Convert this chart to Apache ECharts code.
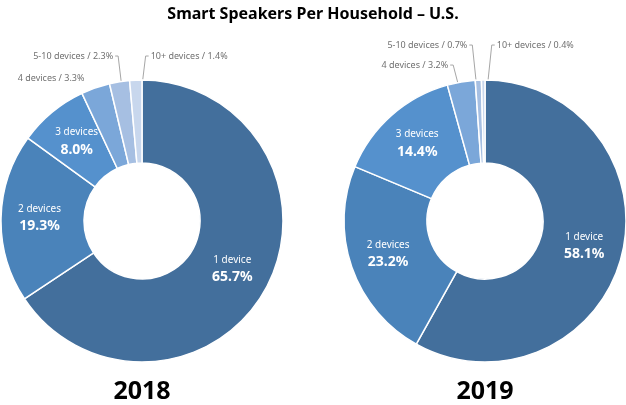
<!DOCTYPE html>
<html><head><meta charset="utf-8">
<script src="https://cdn.jsdelivr.net/npm/echarts@6/dist/echarts.min.js"></script>
<style>html,body{margin:0;padding:0;background:#fff}#c{width:626px;height:405px}</style>
</head><body><div id="c"></div>
<script>
const chartTitle = 'Smart Speakers Per Household – U.S.';
const categories = ['1 device', '2 devices', '3 devices', '4 devices', '5-10 devices', '10+ devices'];
const values2018 = [65.7, 19.3, 8.0, 3.3, 2.3, 1.4];
const values2019 = [58.1, 23.2, 14.4, 3.2, 0.7, 0.4];
const years = ['2018', '2019'];

const colors = ['#436F9C', '#4A83BA', '#5591CD', '#7BA7D9', '#A6BFE2', '#C8D7ED'];
const FONT = '"Noto Sans", "Open Sans", sans-serif';
const CY = 221, R0 = 58, R1 = 141;
const CX = [142, 485];
// outer label placement (label height above centre in outer radii, leader-line shift)
const outerPlace = [
  {3: {ky: 1.014, edge: -11}, 4: {ky: 1.17, dx: -8}, 5: {ky: 1.17, dx: 8}},
  {3: {ky: 1.106, dx: -15}, 4: {ky: 1.248, dx: -8}, 5: {ky: 1.248, dx: 8}}
];

function makeLayout(si, values) {
  const total = values.reduce((a, b) => a + b, 0);
  return function (p) {
    const i = p.dataIndex;
    const cfg = outerPlace[si][i];
    if (!cfg) return;
    let cum = 0;
    for (let k = 0; k < i; k++) cum += values[k];
    const th = (cum + values[i] / 2) / total * 2 * Math.PI;
    const s = Math.sin(th), c = Math.cos(th);
    const ly = CY - cfg.ky * R1;
    if (cfg.dx === undefined) {
      const ox = CX[si] + R1 * s;
      return {x: ox + cfg.edge, y: ly, align: 'right', verticalAlign: 'middle'};
    }
    const rm = (R0 + R1) / 2;
    const ax = CX[si] + rm * s, ay = CY - rm * c;
    const tx = ax + cfg.dx;
    const dir = cfg.dx < 0 ? -1 : 1;
    return {
      x: tx + dir * 5, y: ly,
      align: dir < 0 ? 'right' : 'left', verticalAlign: 'middle',
      labelLinePoints: [[ax, ay], [tx, ly], [tx + dir * 3, ly]]
    };
  };
}

function buildData(values, si) {
  return categories.map((name, i) => {
    const inside = i < 3;
    const item = {name: name, value: values[i], itemStyle: {color: colors[i]}};
    if (inside) {
      item.label = {
        show: true, position: 'inside',
        formatter: (p) => '{n|' + p.name + '}\n{p|' + p.value.toFixed(1) + '%}',
        rich: {
          n: {fontSize: 10, color: '#fff', fontFamily: FONT, lineHeight: 15},
          p: {fontSize: 14, fontWeight: 'bold', color: '#fff', fontFamily: FONT, lineHeight: 19}
        }
      };
      item.labelLine = {show: false};
    } else {
      const noLine = outerPlace[si][i] && outerPlace[si][i].dx === undefined;
      item.label = {
        show: true, position: 'outside',
        formatter: (p) => p.name + ' / ' + p.value.toFixed(1) + '%',
        fontSize: 9, color: '#707070', fontFamily: FONT
      };
      item.labelLine = {show: !noLine, lineStyle: {color: '#a6a6a6', width: 1}};
    }
    return item;
  });
}

const chart = echarts.init(document.getElementById('c'), null, {renderer: 'canvas'});
const allValues = [values2018, values2019];
chart.setOption({
  animation: false,
  backgroundColor: '#fff',
  title: {
    text: chartTitle, left: 'center', top: 1,
    textStyle: {fontSize: 16, fontWeight: 'bold', color: '#000', fontFamily: FONT}
  },
  graphic: years.map((y, si) => ({
    type: 'text', x: CX[si], y: 392,
    style: {text: y, align: 'center', verticalAlign: 'middle', font: 'bold 25px ' + FONT, fill: '#000'}
  })),
  series: allValues.map((vals, si) => ({
    type: 'pie',
    center: [CX[si], CY],
    radius: [R0, R1],
    startAngle: 90,
    clockwise: true,
    avoidLabelOverlap: false,
    silent: true,
    itemStyle: {borderColor: '#fff', borderWidth: 1.5},
    labelLayout: makeLayout(si, vals),
    data: buildData(vals, si)
  }))
});
</script>
</body></html>
